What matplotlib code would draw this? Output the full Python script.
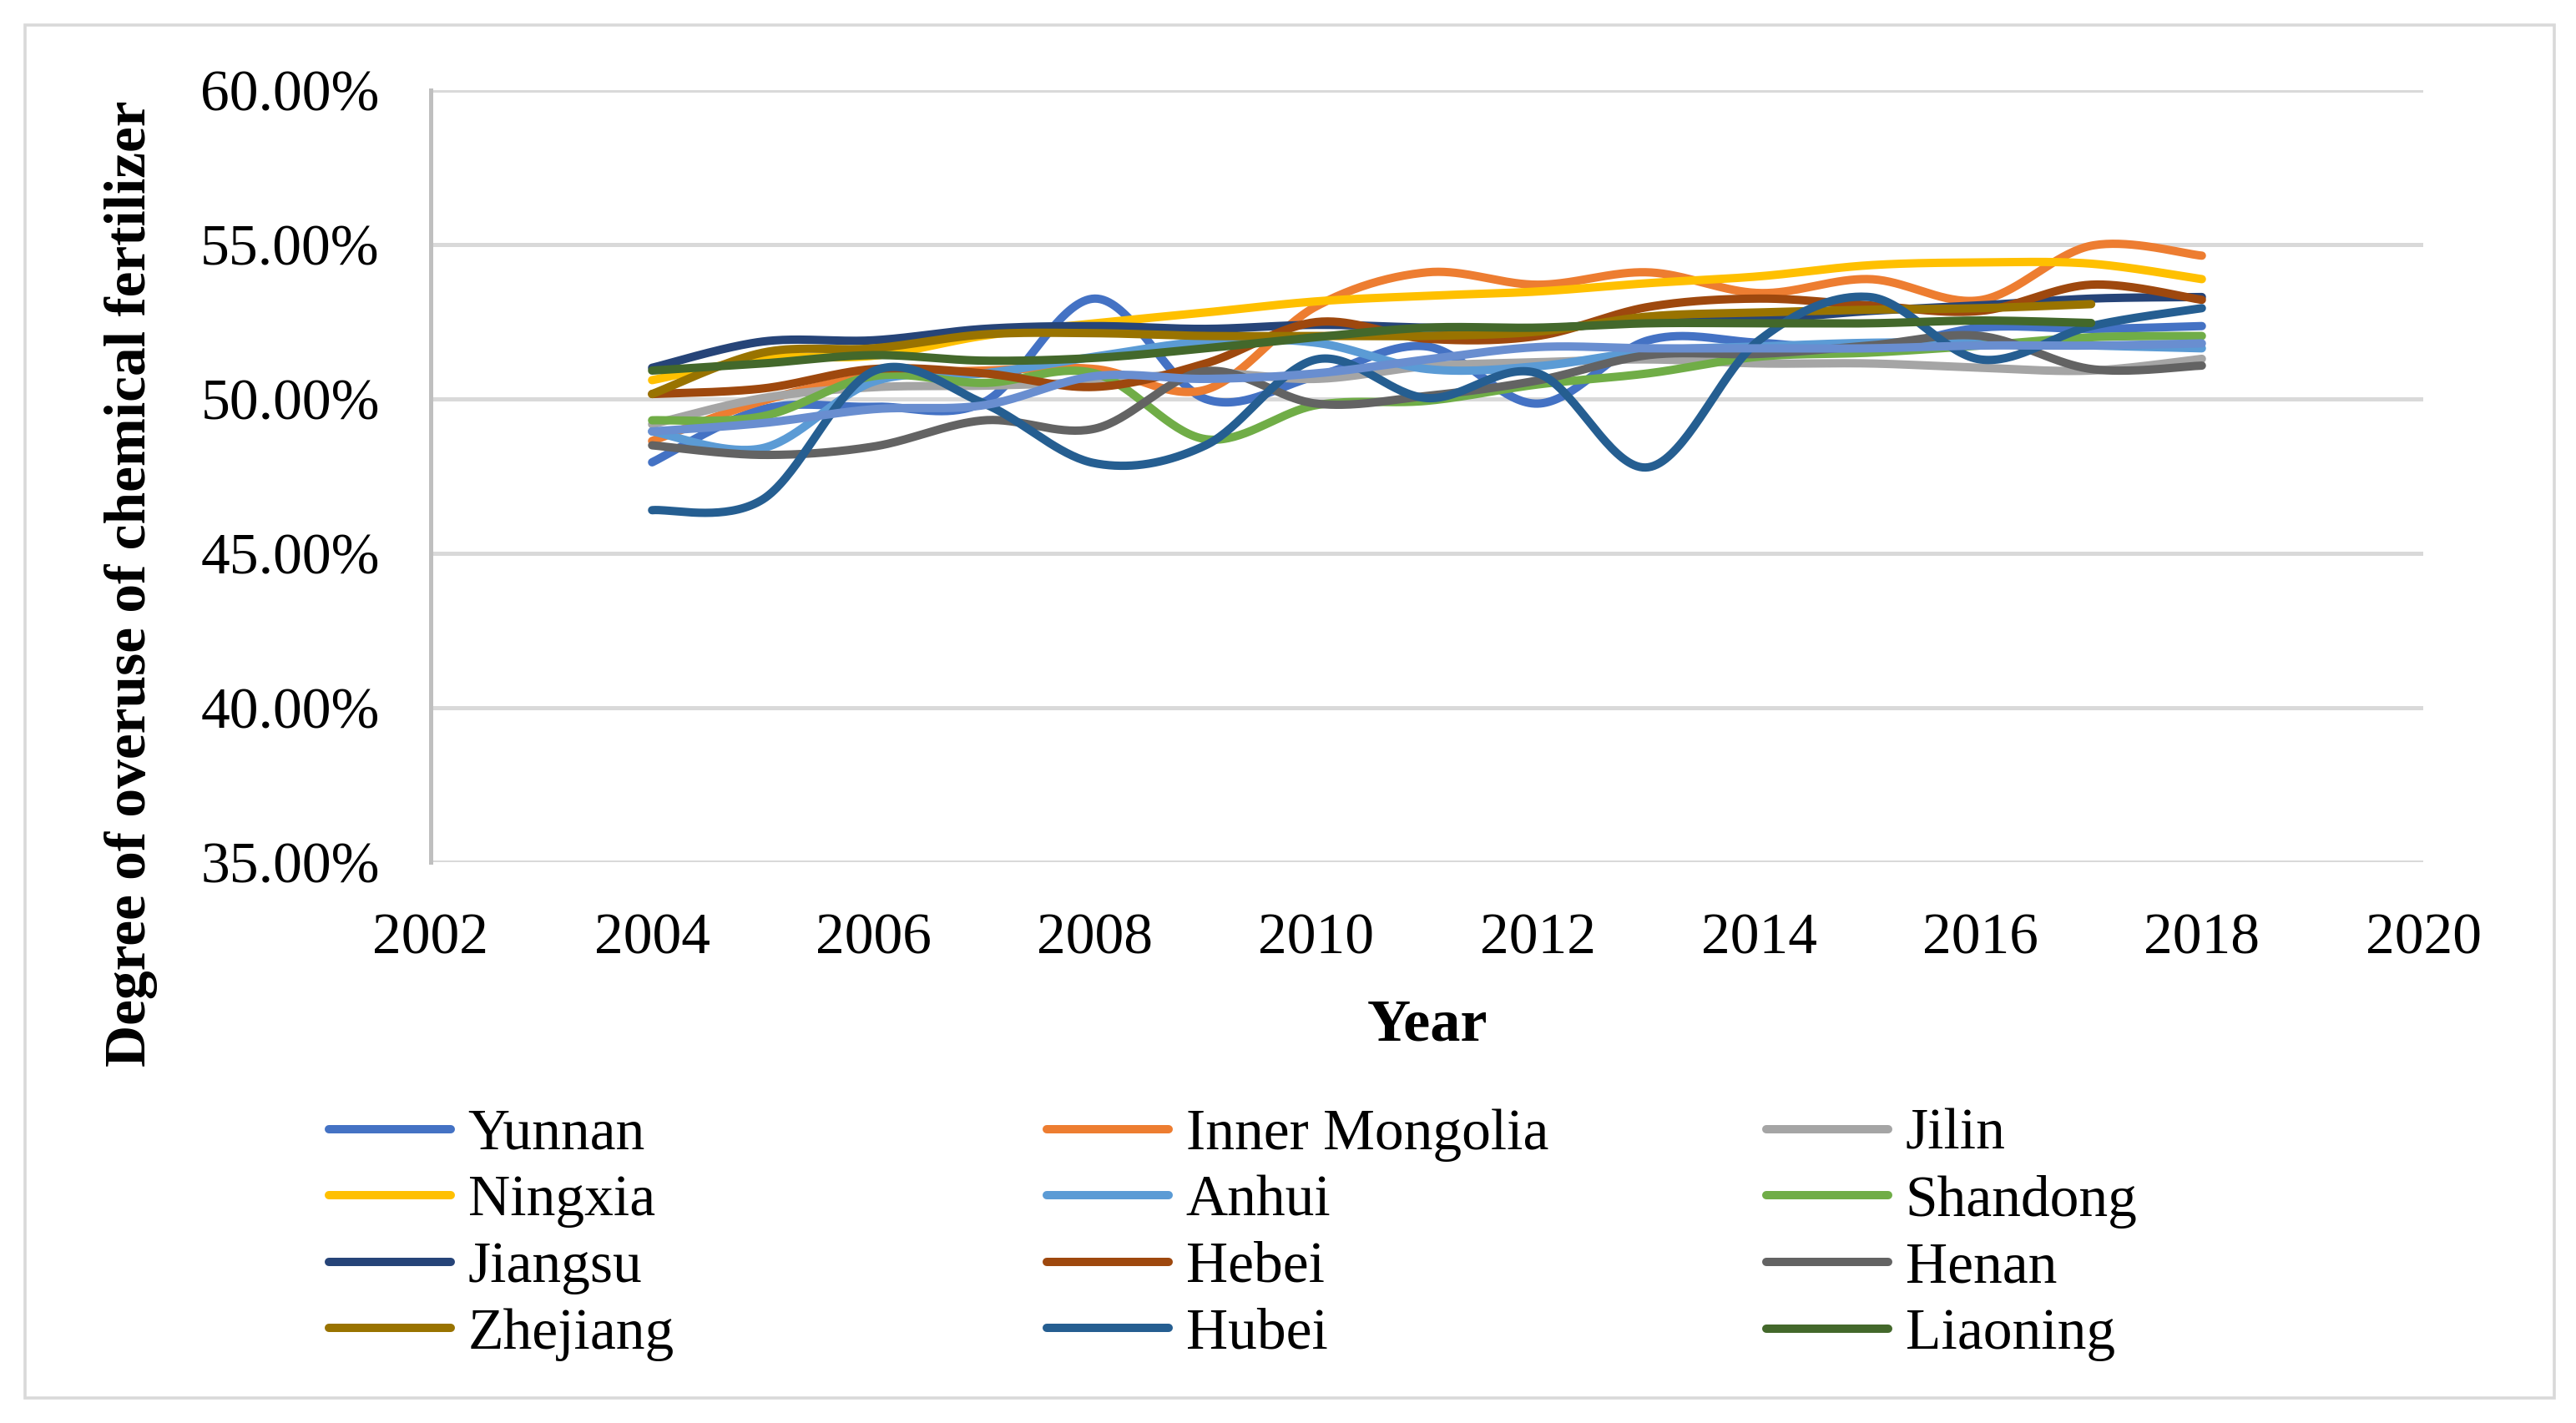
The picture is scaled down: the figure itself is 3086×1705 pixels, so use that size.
import matplotlib.pyplot as plt
import numpy as np
from matplotlib.patches import Rectangle
from matplotlib.lines import Line2D

plt.rcParams['font.family'] = ['Liberation Serif', 'DejaVu Serif']

# values in percent
years = [2004, 2005, 2006, 2007, 2008, 2009, 2010, 2011, 2012, 2013, 2014, 2015, 2016, 2017, 2018]
yunnan = [47.95, 49.67, 49.75, 49.9, 53.25, 50.0, 50.74, 51.7, 49.85, 51.9, 51.82, 51.6, 52.31, 52.27, 52.36]
inner_mongolia = [48.64, 49.94, 50.74, 50.92, 50.97, 50.3, 53.0, 54.1, 53.7, 54.1, 53.43, 53.88, 53.2, 54.96, 54.64]
jilin = [49.18, 50.03, 50.38, 50.43, 50.56, 50.85, 50.65, 51.06, 51.19, 51.28, 51.15, 51.15, 51.01, 50.92, 51.3]
ningxia = [50.61, 51.3, 51.4, 52.05, 52.45, 52.8, 53.16, 53.34, 53.48, 53.75, 53.97, 54.33, 54.42, 54.38, 53.88]
anhui = [48.95, 48.41, 50.56, 50.83, 51.37, 51.86, 51.82, 50.97, 51.06, 51.55, 51.7, 51.82, 51.82, 51.73, 51.64]
shandong = [49.31, 49.44, 50.74, 50.52, 50.83, 48.7, 49.8, 49.94, 50.47, 50.83, 51.37, 51.5, 51.73, 52.0, 52.04]
jiangsu = [51.01, 51.86, 51.9, 52.27, 52.36, 52.27, 52.4, 52.31, 52.27, 52.54, 52.58, 52.85, 53.03, 53.25, 53.3]
hebei = [50.16, 50.34, 50.97, 50.83, 50.39, 51.15, 52.49, 51.95, 52.04, 52.98, 53.25, 53.03, 52.85, 53.7, 53.21]
henan = [48.5, 48.19, 48.46, 49.31, 49.04, 50.9, 49.85, 50.1, 50.6, 51.42, 51.46, 51.73, 52.04, 50.97, 51.08]
zhejiang = [50.16, 51.5, 51.64, 52.09, 52.13, 52.04, 52.04, 52.04, 52.18, 52.67, 52.8, 52.89, 52.94, 53.07]
hubei = [46.4, 46.75, 50.9, 49.85, 47.92, 48.5, 51.28, 50.03, 50.83, 47.79, 51.9, 53.3, 51.28, 52.36, 52.94]
liaoning = [50.92, 51.15, 51.42, 51.24, 51.33, 51.64, 52.0, 52.31, 52.31, 52.45, 52.45, 52.45, 52.54, 52.46]
extra = [48.95, 49.22, 49.67, 49.8, 50.74, 50.65, 50.83, 51.28, 51.68, 51.64, 51.64, 51.64, 51.73, 51.73, 51.8]

names = ['Yunnan', 'Inner Mongolia', 'Jilin', 'Ningxia', 'Anhui', 'Shandong',
         'Jiangsu', 'Hebei', 'Henan', 'Zhejiang', 'Hubei', 'Liaoning', '']
series = [yunnan, inner_mongolia, jilin, ningxia, anhui, shandong,
          jiangsu, hebei, henan, zhejiang, hubei, liaoning, extra]
colors = ['#4472C4', '#ED7D31', '#A5A5A5', '#FFC000', '#5B9BD5', '#70AD47',
          '#264478', '#9E480E', '#636363', '#997300', '#255E91', '#43682B', '#698ED0']

xticks = [2002, 2004, 2006, 2008, 2010, 2012, 2014, 2016, 2018, 2020]
yticks = [35, 40, 45, 50, 55, 60]
ytick_labels = ['35.00%', '40.00%', '45.00%', '50.00%', '55.00%', '60.00%']


def smooth(xs, ys, n=40):
    # excel style smoothed line: bezier segments with catmull-rom tangents
    p = np.column_stack([xs, ys]).astype(float)
    p = np.vstack([p[0], p, p[-1]])
    t = np.linspace(0, 1, n)[:, None]
    out = []
    for i in range(1, len(p) - 2):
        p0, p3 = p[i], p[i + 1]
        p1 = p0 + (p[i + 1] - p[i - 1]) / 6
        p2 = p3 - (p[i + 2] - p[i]) / 6
        seg = (1 - t) ** 3 * p0 + 3 * (1 - t) ** 2 * t * p1 + 3 * (1 - t) * t ** 2 * p2 + t ** 3 * p3
        out.append(seg if i == 1 else seg[1:])
    out = np.vstack(out)
    return out[:, 0], out[:, 1]


fig = plt.figure(figsize=(15.43, 8.525), dpi=200)
ax = fig.add_axes([0.1672, 0.394, 0.7735, 0.5427])

lw = 3.6
for name, vals, c in zip(names, series, colors):
    sx, sy = smooth(years[:len(vals)], vals)
    ax.plot(sx, sy, color=c, lw=lw, solid_capstyle='round')

ax.set_xlim(2002, 2020)
ax.set_ylim(35, 60)
ax.set_xticks(xticks)
ax.set_yticks(yticks)
ax.set_yticklabels(ytick_labels)
ax.tick_params(axis='both', length=0, labelsize=25, pad=22)
ax.grid(axis='y', color='#D9D9D9', lw=1.8)
ax.set_axisbelow(True)
for s in ['top', 'right', 'bottom']:
    ax.spines[s].set_visible(False)
ax.spines['left'].set_color('#BFBFBF')
ax.spines['left'].set_linewidth(1.8)

fig.text(0.051, 0.59, 'Degree of overuse of chemical fertilizer', rotation=90,
         ha='center', va='center', fontsize=25, fontweight='bold')
fig.text(0.554, 0.279, 'Year', ha='center', va='center', fontsize=26, fontweight='bold')

# legend, filled row by row like the original, three columns
col_x = [0.1277, 0.4063, 0.6857]
for j in range(3):
    idx = [j, j + 3, j + 6, j + 9]
    handles = [Line2D([], [], color=colors[k], lw=lw, solid_capstyle='round') for k in idx]
    labels = [names[k] for k in idx]
    fig.legend(handles, labels, loc='upper left', bbox_to_anchor=(col_x[j], 0.221),
               frameon=False, fontsize=25, handlelength=2.1, handletextpad=0.3,
               labelspacing=0.23, borderpad=0, borderaxespad=0)

fig.patches.append(Rectangle((30 / 3086, 30 / 1705), 3030 / 3086, 1645 / 1705,
                             transform=fig.transFigure, fill=False, ec='#D9D9D9', lw=1.3))

fig.savefig('out.png', dpi=200)
